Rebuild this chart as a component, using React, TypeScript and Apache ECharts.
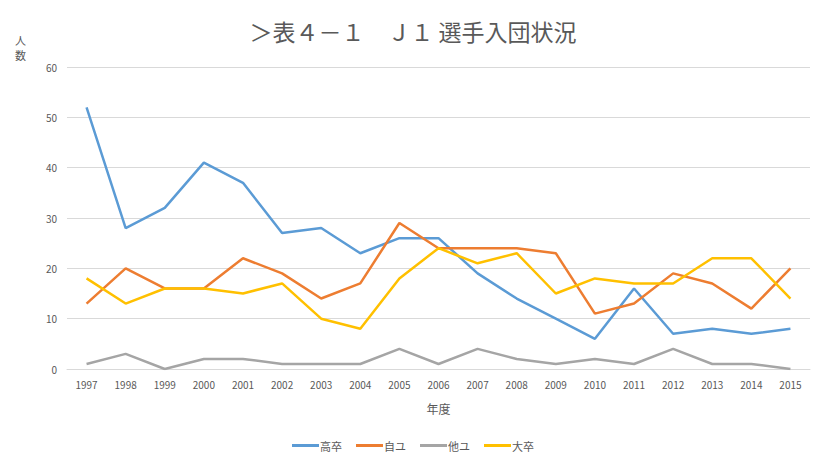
import React, { useEffect, useRef } from "react";
import * as echarts from "echarts";

const years = ["1997","1998","1999","2000","2001","2002","2003","2004","2005","2006","2007","2008","2009","2010","2011","2012","2013","2014","2015"];
const koosotsu = [52,28,32,41,37,27,28,23,26,26,19,14,10,6,16,7,8,7,8];
const jiyu = [13,20,16,16,22,19,14,17,29,24,24,24,23,11,13,19,17,12,20];
const tayu = [1,3,0,2,2,1,1,1,4,1,4,2,1,2,1,4,1,1,0];
const daisotsu = [18,13,16,16,15,17,10,8,18,24,21,23,15,18,17,17,22,22,14];
const seriesNames = ["高卒","自ユ","他ユ","大卒"];
const colors = ["#5B9BD5","#ED7D31","#A5A5A5","#FFC000"];

const FONT = "'Noto Sans CJK JP', 'Noto Sans', sans-serif";

export default function App() {
  const ref = useRef<HTMLDivElement>(null);
  useEffect(() => {
    const chart = echarts.init(ref.current!, undefined, { renderer: "svg" });
    const data = [koosotsu, jiyu, tayu, daisotsu];
    chart.setOption({
      animation: false,
      backgroundColor: "#ffffff",
      textStyle: { fontFamily: FONT },
      title: {
        text: "＞表４－１　Ｊ１ 選手入団状況",
        left: "center",
        top: 13,
        textStyle: { fontSize: 23, fontWeight: "normal", color: "#595959", fontFamily: FONT },
      },
      graphic: [
        {
          type: "text",
          left: 14,
          top: 31,
          style: { text: "人\n数", fontSize: 11, fill: "#595959", lineHeight: 15, fontFamily: FONT },
        },
      ],
      legend: {
        bottom: 9,
        left: "center",
        itemWidth: 27,
        itemHeight: 3,
        itemGap: 14,
        icon: "rect",
        textStyle: { fontSize: 11, color: "#595959", fontFamily: FONT, padding: [0, 0, 0, -4] },
        data: seriesNames,
      },
      grid: { left: 66, right: 15, top: 66, bottom: 96 },
      xAxis: {
        type: "category",
        data: years,
        boundaryGap: true,
        name: "年度",
        nameLocation: "middle",
        nameGap: 33,
        nameTextStyle: { fontSize: 12, color: "#595959", fontFamily: FONT },
        axisLine: { show: true, lineStyle: { color: "#d9d9d9" } },
        axisTick: { show: false },
        axisLabel: { fontSize: 10, color: "#595959", margin: 10 },
      },
      yAxis: {
        type: "value",
        min: 0,
        max: 60,
        interval: 10,
        axisLine: { show: false },
        axisTick: { show: false },
        axisLabel: { fontSize: 10, color: "#595959", margin: 10 },
        splitLine: { lineStyle: { color: "#d9d9d9" } },
      },
      series: seriesNames.map((n, i) => ({
        name: n,
        type: "line",
        data: data[i],
        symbol: "none",
        lineStyle: { width: 2.5, color: colors[i] },
        itemStyle: { color: colors[i] },
      })),
    });
    return () => chart.dispose();
  }, []);
  return (
    <div
      ref={ref}
      style={{ width: 824, height: 464, border: "1px solid #d9d9d9", margin: -8 }}
    />
  );
}
